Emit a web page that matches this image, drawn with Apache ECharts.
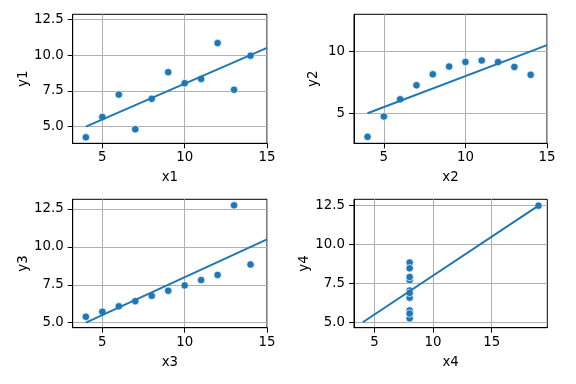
<!DOCTYPE html>
<html><head><meta charset="utf-8">
<script src="https://cdn.jsdelivr.net/npm/echarts@6/dist/echarts.min.js"></script>
<style>html,body{margin:0;padding:0;background:#fff}#c{width:576px;height:384px}</style>
</head><body><div id="c"></div>
<script>
const x123 = [10, 8, 13, 9, 11, 14, 6, 4, 12, 7, 5];
const y1 = [8.04, 6.95, 7.58, 8.81, 8.33, 9.96, 7.24, 4.26, 10.84, 4.82, 5.68];
const y2 = [9.14, 8.14, 8.74, 8.77, 9.26, 8.10, 6.13, 3.10, 9.13, 7.26, 4.74];
const y3 = [7.46, 6.77, 12.74, 7.11, 7.81, 8.84, 6.08, 5.39, 8.15, 6.42, 5.73];
const x4 = [8, 8, 8, 8, 8, 8, 8, 19, 8, 8, 8];
const y4 = [6.58, 5.76, 7.71, 8.84, 8.47, 7.04, 5.25, 12.50, 5.56, 7.91, 6.89];
const fitX123 = [4, 15];
const fitY123 = [5, 10.5];
const fitX4 = [4, 19];
const fitY4 = [5, 12.5];
const xTicks = [5, 10, 15];
const yTicks1 = [5, 7.5, 10, 12.5];
const yTicks2 = [5, 10];
const yTicks3 = [5, 7.5, 10, 12.5];
const yTicks4 = [5, 7.5, 10, 12.5];

const FONT = 'DejaVu Sans';
const BLUE = '#1f77b4';
const grids = [
  {left: 72.7, top: 14.3, width: 194.3, height: 129},
  {left: 354, top: 14.3, width: 193, height: 129},
  {left: 72.7, top: 199.3, width: 194.3, height: 128.4},
  {left: 354, top: 199.3, width: 193.3, height: 128.4}
];
const panels = [
  {xs: x123, ys: y1, fx: fitX123, fy: fitY123, xmin: 3.2, xmax: 15, ymin: 3.84, ymax: 12.85, yt: yTicks1, yfmt: 1, xn: 'x1', yn: 'y1', yg: 43},
  {xs: x123, ys: y2, fx: fitX123, fy: fitY123, xmin: 3.17, xmax: 15, ymin: 2.58, ymax: 12.98, yt: yTicks2, yfmt: 0, xn: 'x2', yn: 'y2', yg: 34},
  {xs: x123, ys: y3, fx: fitX123, fy: fitY123, xmin: 3.2, xmax: 15, ymin: 4.67, ymax: 13.14, yt: yTicks3, yfmt: 1, xn: 'x3', yn: 'y3', yg: 43},
  {xs: x4, ys: y4, fx: fitX4, fy: fitY4, xmin: 3.25, xmax: 19.75, ymin: 4.65, ymax: 12.91, yt: yTicks4, yfmt: 1, xn: 'x4', yn: 'y4', yg: 43}
];
const xAxis = [], yAxis = [], series = [];
panels.forEach((p, i) => {
  const common = {
    type: 'value', gridIndex: i,
    axisLine: {show: true, onZero: false, lineStyle: {color: '#000', width: 1}},
    axisTick: {show: true, inside: false, length: 5, lineStyle: {color: '#000', width: 1}},
    splitLine: {show: true, lineStyle: {color: '#b0b0b0', width: 1}},
    nameLocation: 'middle',
    nameTextStyle: {fontFamily: FONT, fontSize: 13.33, color: '#000'}
  };
  xAxis.push(Object.assign({}, common, {
    min: p.xmin, max: p.xmax, name: p.xn, nameGap: 28,
    axisTick: Object.assign({}, common.axisTick, {customValues: xTicks}),
    axisLabel: {customValues: xTicks, margin: 8, fontFamily: FONT, fontSize: 13.33, color: '#000', formatter: v => String(v)}
  }));
  yAxis.push(Object.assign({}, common, {
    min: p.ymin, max: p.ymax, name: p.yn, nameGap: p.yg,
    axisTick: Object.assign({}, common.axisTick, {customValues: p.yt}),
    axisLabel: {customValues: p.yt, margin: 9, fontFamily: FONT, fontSize: 13.33, color: '#000', formatter: v => v.toFixed(p.yfmt)}
  }));
  series.push({
    type: 'scatter', xAxisIndex: i, yAxisIndex: i,
    data: p.xs.map((x, k) => [x, p.ys[k]]),
    symbolSize: 7.5,
    itemStyle: {color: BLUE, borderColor: '#fff', borderWidth: 0.7, opacity: 1},
    z: 2
  });
  series.push({
    type: 'line', xAxisIndex: i, yAxisIndex: i,
    data: p.fx.map((x, k) => [x, p.fy[k]]),
    showSymbol: false, symbol: 'none',
    lineStyle: {color: BLUE, width: 2},
    z: 3, animation: false
  });
});
const chart = echarts.init(document.getElementById('c'), null, {renderer: 'canvas'});
chart.setOption({
  animation: false,
  backgroundColor: '#fff',
  grid: grids.map(g => Object.assign({show: true, borderColor: '#000', borderWidth: 1, backgroundColor: 'transparent'}, g)),
  xAxis, yAxis, series
});
</script></body></html>
